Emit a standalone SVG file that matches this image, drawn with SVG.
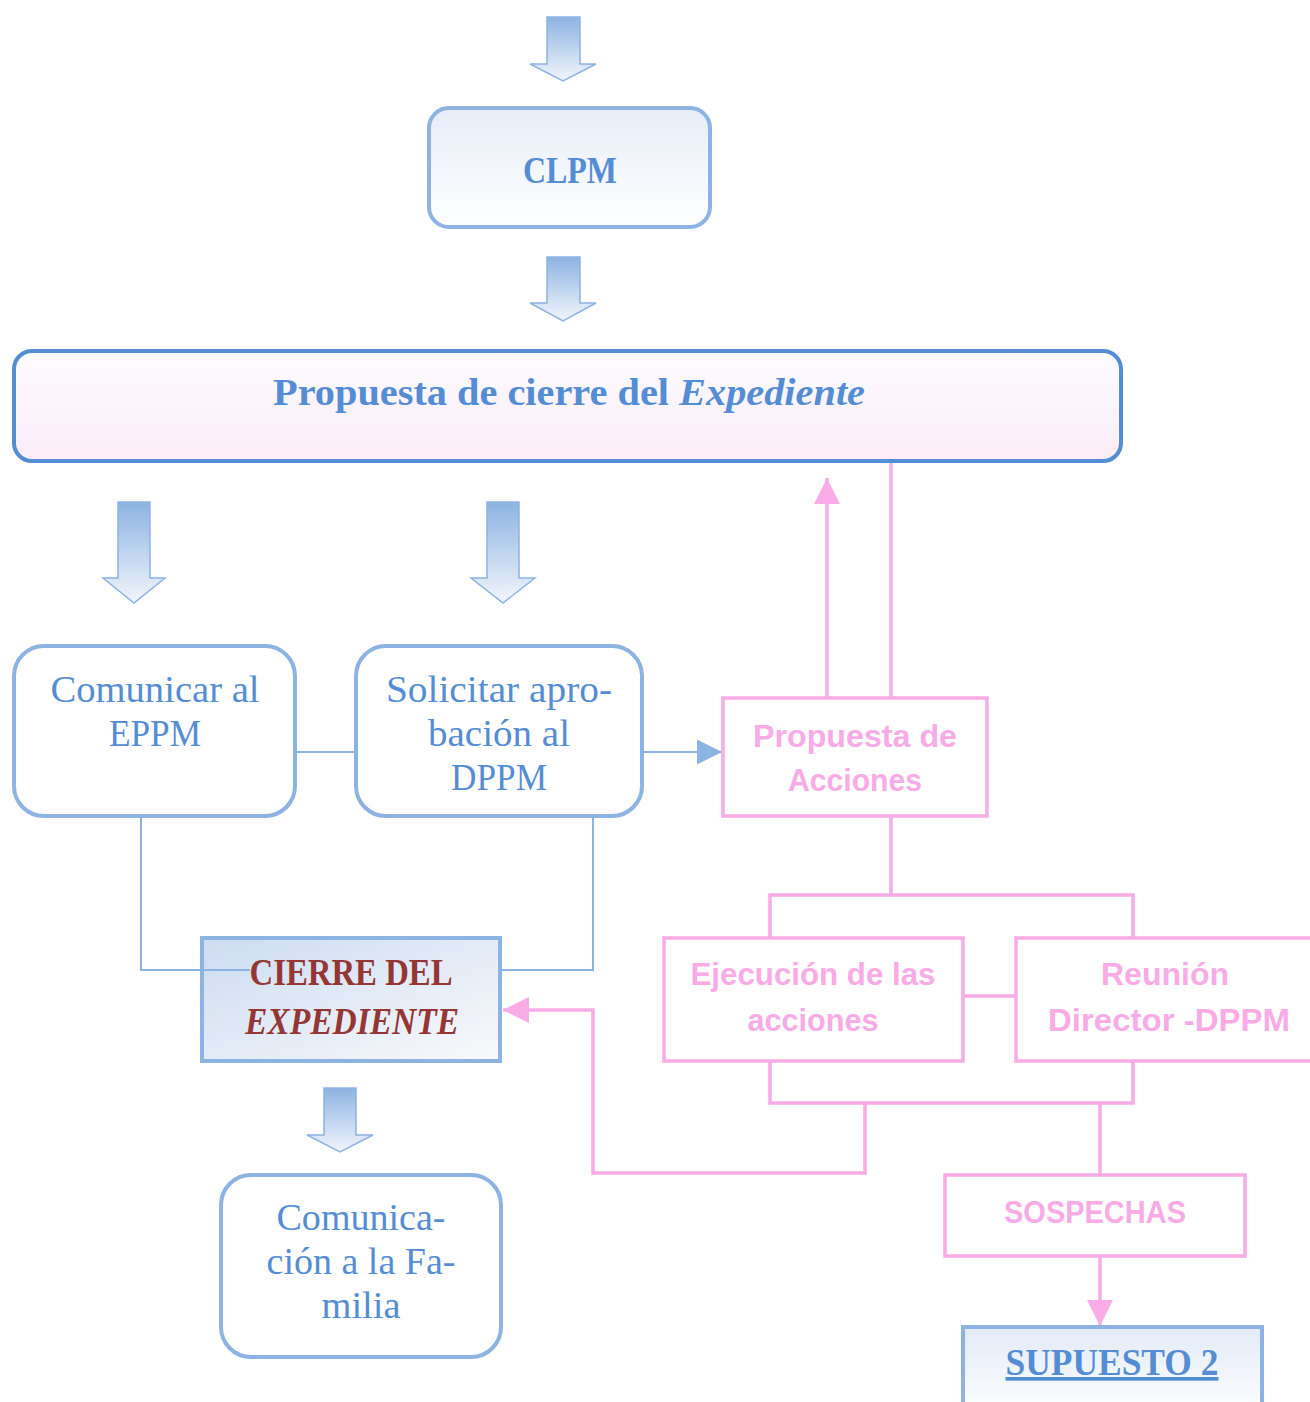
<svg xmlns="http://www.w3.org/2000/svg" width="1310" height="1402" viewBox="0 0 1310 1402">
<defs>
<linearGradient id="gArrow" x1="0" y1="0" x2="0" y2="1"><stop offset="0" stop-color="#8db3e2"/><stop offset="1" stop-color="#f2f6fc"/></linearGradient>
<linearGradient id="gClpm" x1="0" y1="0" x2="0" y2="1"><stop offset="0" stop-color="#e6edf8"/><stop offset="1" stop-color="#ffffff"/></linearGradient>
<linearGradient id="gProp" x1="0" y1="0" x2="0" y2="1"><stop offset="0" stop-color="#fcfcff"/><stop offset="1" stop-color="#fcecf7"/></linearGradient>
<linearGradient id="gCierre" x1="0" y1="0" x2="1" y2="1"><stop offset="0" stop-color="#ccdcf1"/><stop offset="1" stop-color="#f9f9fb"/></linearGradient>
<linearGradient id="gSup" x1="0" y1="0" x2="0" y2="1"><stop offset="0" stop-color="#e2ebf8"/><stop offset="1" stop-color="#ffffff"/></linearGradient>
<marker id="mBlue" viewBox="0 0 10 10" refX="10" refY="5" markerWidth="25" markerHeight="25" markerUnits="userSpaceOnUse" orient="auto"><path d="M0,0 L10,5 L0,10 Z" fill="#8db3e2"/></marker>
<marker id="mPink" viewBox="0 0 10 10" refX="10" refY="5" markerWidth="26" markerHeight="26" markerUnits="userSpaceOnUse" orient="auto"><path d="M0,0 L10,5 L0,10 Z" fill="#f8abe6"/></marker>
</defs>
<style>
.blk{fill:url(#gArrow);stroke:#8db3e2;stroke-width:1.5}
.rbox{fill:#fff;stroke:#8db3e2;stroke-width:4}
.pbox{fill:#fff;stroke:#f8abe6;stroke-width:3.5}
.bt{font-family:"Liberation Serif","DejaVu Serif",serif;font-size:37px;fill:#548dd4;text-anchor:middle}
.bb{font-weight:bold}
.pt{font-family:"Liberation Sans","Noto Sans",sans-serif;font-size:32px;font-weight:bold;fill:#f8abe6;text-anchor:middle}
.rt{font-family:"Liberation Serif","DejaVu Serif",serif;font-size:37px;font-weight:bold;fill:#943634;text-anchor:middle}
.bl{fill:none;stroke:#8db3e2;stroke-width:2}
.pl{fill:none;stroke:#f8abe6;stroke-width:3.5}
</style>

<g id="connectors">
<path class="blk" d="M547,17 H580 V64 H596 L563,81 L530,64 H547 Z"/>
<path class="blk" d="M547,257 H580 V303 H596 L563,321 L530,303 H547 Z"/>
<path class="blk" d="M118,502 H150 V578 H165 L134,603 L103,578 H118 Z"/>
<path class="blk" d="M487,502 H519 V578 H535 L503,603 L471,578 H487 Z"/>
<path class="blk" d="M324,1088 H356 V1135 H373 L340,1152 L307,1135 H324 Z"/>
<line class="bl" x1="296" y1="752" x2="355" y2="752"/>
<line class="bl" x1="643" y1="752" x2="722" y2="752" marker-end="url(#mBlue)"/>
<path class="bl" d="M141,816 V970 H250"/>
<path class="bl" d="M593,816 V970 H501"/>
<line class="pl" x1="827" y1="697" x2="827" y2="478" marker-end="url(#mPink)"/>
<line class="pl" x1="891" y1="697" x2="891" y2="461"/>
<path class="pl" d="M891,817 V895"/>
<path class="pl" d="M770,937 V895 H1133 V937"/>
<line class="pl" x1="963" y1="996" x2="1015" y2="996"/>
<path class="pl" d="M770,1061 V1103 H1133 V1061"/>
<path class="pl" d="M865,1103 V1173 H593 V1010 H503" marker-end="url(#mPink)"/>
<path class="pl" d="M1100,1103 V1175"/>
<line class="pl" x1="1100" y1="1256" x2="1100" y2="1326" marker-end="url(#mPink)"/>
</g>

<g id="clpm">
<rect x="429" y="108" width="281" height="119" rx="20" fill="url(#gClpm)" stroke="#8db3e2" stroke-width="4"/>
<text class="bt bb" x="570" y="183" textLength="94" lengthAdjust="spacingAndGlyphs">CLPM</text>
</g>

<g id="propuesta-cierre">
<rect x="14" y="351" width="1107" height="110" rx="18" fill="url(#gProp)" stroke="#548dd4" stroke-width="4"/>
<text class="bt bb" x="569" y="405" textLength="592" lengthAdjust="spacingAndGlyphs">Propuesta de cierre del <tspan font-style="italic">Expediente</tspan></text>
</g>

<g id="comunicar-eppm">
<rect class="rbox" x="14" y="646" width="281" height="170" rx="30"/>
<text class="bt" x="155" y="702" textLength="209" lengthAdjust="spacingAndGlyphs">Comunicar al</text>
<text class="bt" x="155" y="746" textLength="92" lengthAdjust="spacingAndGlyphs">EPPM</text>
</g>

<g id="solicitar-dppm">
<rect class="rbox" x="356" y="646" width="286" height="170" rx="30"/>
<text class="bt" x="499" y="702" textLength="226" lengthAdjust="spacingAndGlyphs">Solicitar apro-</text>
<text class="bt" x="499" y="746" textLength="142" lengthAdjust="spacingAndGlyphs">bación al</text>
<text class="bt" x="499" y="790" textLength="96" lengthAdjust="spacingAndGlyphs">DPPM</text>
</g>

<g id="propuesta-acciones">
<rect class="pbox" x="723" y="698" width="264" height="118"/>
<text class="pt" x="855" y="747" textLength="204" lengthAdjust="spacingAndGlyphs">Propuesta de</text>
<text class="pt" x="855" y="791" textLength="134" lengthAdjust="spacingAndGlyphs">Acciones</text>
</g>

<g id="ejecucion">
<rect class="pbox" x="664" y="938" width="299" height="123"/>
<text class="pt" x="813" y="985" textLength="245" lengthAdjust="spacingAndGlyphs">Ejecución de las</text>
<text class="pt" x="813" y="1031" textLength="131" lengthAdjust="spacingAndGlyphs">acciones</text>
</g>

<g id="reunion">
<rect class="pbox" x="1016" y="938" width="300" height="123"/>
<text class="pt" x="1165" y="985" textLength="128" lengthAdjust="spacingAndGlyphs">Reunión</text>
<text class="pt" x="1169" y="1031" textLength="242" lengthAdjust="spacingAndGlyphs">Director -DPPM</text>
</g>

<g id="cierre-expediente">
<rect x="202" y="938" width="298" height="123" fill="url(#gCierre)" stroke="#8db3e2" stroke-width="4"/>
<line class="bl" x1="202" y1="970" x2="250" y2="970"/>
<text class="rt" x="351" y="985" textLength="203" lengthAdjust="spacingAndGlyphs">CIERRE DEL</text>
<text class="rt" x="352" y="1034" font-style="italic" textLength="214" lengthAdjust="spacingAndGlyphs">EXPEDIENTE</text>
</g>

<g id="comunicacion-familia">
<rect class="rbox" x="221" y="1175" width="280" height="182" rx="30"/>
<text class="bt" x="361" y="1230" textLength="169" lengthAdjust="spacingAndGlyphs">Comunica-</text>
<text class="bt" x="361" y="1274" textLength="189" lengthAdjust="spacingAndGlyphs">ción a la Fa-</text>
<text class="bt" x="361" y="1318" textLength="79" lengthAdjust="spacingAndGlyphs">milia</text>
</g>

<g id="sospechas">
<rect class="pbox" x="945" y="1175" width="300" height="81"/>
<text class="pt" x="1095" y="1223" textLength="182" lengthAdjust="spacingAndGlyphs">SOSPECHAS</text>
</g>

<g id="supuesto-2">
<rect x="963" y="1327" width="299" height="90" fill="url(#gSup)" stroke="#8db3e2" stroke-width="4"/>
<text class="bt bb" x="1112" y="1375" text-decoration="underline" textLength="213" lengthAdjust="spacingAndGlyphs">SUPUESTO 2</text>
</g>
</svg>
